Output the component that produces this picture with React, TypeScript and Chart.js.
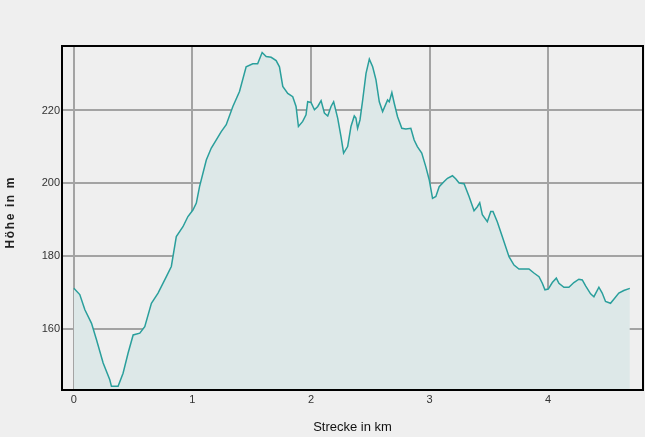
import React, { useEffect, useRef } from "react";
import { Chart, registerables } from "chart.js";

Chart.register(...registerables);

const distanceKm = [
  0.0, 0.05, 0.093, 0.149, 0.191, 0.247, 0.303, 0.317, 0.373, 0.415, 0.457, 0.5,
  0.556, 0.598, 0.654, 0.71, 0.78, 0.822, 0.864, 0.92, 0.962, 1.004, 1.033, 1.06,
  1.117, 1.159, 1.2, 1.243, 1.285, 1.341, 1.397, 1.453, 1.509, 1.55, 1.588, 1.622,
  1.664, 1.706, 1.734, 1.762, 1.804, 1.846, 1.874, 1.894, 1.93, 1.958, 1.972, 2.0,
  2.029, 2.057, 2.085, 2.113, 2.141, 2.169, 2.191, 2.225, 2.253, 2.275, 2.309, 2.337,
  2.365, 2.379, 2.393, 2.413, 2.436, 2.464, 2.492, 2.52, 2.548, 2.576, 2.604, 2.646,
  2.66, 2.682, 2.702, 2.73, 2.766, 2.8, 2.842, 2.87, 2.897, 2.934, 2.968, 2.997,
  3.025, 3.053, 3.081, 3.123, 3.151, 3.193, 3.222, 3.249, 3.291, 3.333, 3.375, 3.403,
  3.423, 3.445, 3.487, 3.516, 3.535, 3.571, 3.613, 3.67, 3.712, 3.754, 3.838, 3.88,
  3.923, 3.951, 3.973, 4.001, 4.035, 4.069, 4.091, 4.133, 4.175, 4.217, 4.259, 4.288,
  4.316, 4.358, 4.386, 4.428, 4.456, 4.484, 4.526, 4.554, 4.596, 4.638, 4.689,
];

const elevationM = [
  171.2, 169.5, 165.3, 161.6, 157.1, 150.7, 146.1, 144.3, 144.3, 147.9, 153.4, 158.4,
  158.9, 160.7, 167.1, 169.9, 174.4, 177.2, 185.4, 188.1, 190.9, 192.7, 194.6, 199.1,
  206.4, 209.7, 211.9, 214.2, 216.1, 221.1, 225.2, 232.0, 232.8, 232.8, 235.9, 234.8,
  234.6, 233.7, 232.0, 226.6, 224.7, 223.8, 221.1, 215.6, 217.0, 218.8, 222.4, 222.2,
  220.2, 221.1, 222.7, 219.3, 218.5, 221.1, 222.4, 217.9, 212.8, 208.3, 210.1, 215.6,
  218.5, 217.9, 215.1, 217.4, 222.9, 230.2, 234.1, 232.0, 228.4, 222.4, 219.7, 222.9,
  222.4, 224.9, 222.0, 218.3, 215.1, 214.9, 215.1, 211.9, 210.1, 208.3, 204.6, 201.0,
  195.9, 196.4, 199.1, 200.5, 201.4, 202.1, 201.2, 200.1, 199.9, 196.4, 192.5, 193.6,
  194.7, 191.4, 189.5, 192.3, 192.3, 189.5, 185.4, 179.9, 177.6, 176.5, 176.5, 175.4,
  174.4, 172.6, 170.8, 171.0, 172.8, 174.0, 172.6, 171.5, 171.5, 172.8, 173.7, 173.5,
  171.9, 169.7, 168.9, 171.5, 169.9, 167.6, 167.1, 168.2, 169.9, 170.6, 171.2,
];

const xTicks = [0, 1, 2, 3, 4];
const yTicks = [160, 180, 200, 220];

const xTitle = "Strecke in km";
const yTitle = "Höhe in m";

const FONT = "Arial, 'Liberation Sans', sans-serif";

export default function App() {
  const canvasRef = useRef<HTMLCanvasElement | null>(null);

  useEffect(() => {
    const canvas = canvasRef.current;
    if (!canvas) return;

    const bgPlugin = {
      id: "bg",
      beforeDraw(chart: any) {
        const ctx = chart.ctx;
        ctx.save();
        ctx.fillStyle = "#efefef";
        ctx.fillRect(0, 0, chart.width, chart.height);
        ctx.restore();
      },
      afterDraw(chart: any) {
        const ctx = chart.ctx;
        const a = chart.chartArea;
        ctx.save();
        ctx.strokeStyle = "#000000";
        ctx.lineWidth = 2;
        ctx.strokeRect(a.left, a.top, a.right - a.left, a.bottom - a.top);
        // y axis title with letter spacing
        ctx.translate(11, 213);
        ctx.rotate(-Math.PI / 2);
        ctx.font = "bold 12px " + FONT;
        (ctx as any).letterSpacing = "1.6px";
        ctx.fillStyle = "#222222";
        ctx.textAlign = "center";
        ctx.textBaseline = "middle";
        ctx.fillText(yTitle, 0.8, 0);
        ctx.restore();
      },
    };

    const chart = new Chart(canvas, {
      type: "line",
      data: {
        datasets: [
          {
            data: distanceKm.map((x, i) => ({ x, y: elevationM[i] })),
            borderColor: "#2a9f9c",
            borderWidth: 1.5,
            backgroundColor: "#dde8e8",
            fill: "start",
            pointRadius: 0,
            tension: 0,
          },
        ],
      },
      options: {
        responsive: false,
        animation: false,
        layout: { padding: { top: 46, right: 2, left: 0, bottom: 0 } },
        plugins: { legend: { display: false }, tooltip: { enabled: false } },
        scales: {
          x: {
            type: "linear",
            min: -0.1,
            max: 4.8,
            afterBuildTicks: (s: any) => {
              s.ticks = xTicks.map((v) => ({ value: v }));
            },
            afterFit: (s: any) => {
              s.height = 47;
            },
            grid: { color: "#a3a3a3", lineWidth: 2, drawTicks: false },
            border: { display: false },
            ticks: {
              padding: 3,
              color: "#333333",
              font: { family: FONT, size: 11 },
              maxRotation: 0,
              callback: (v: any) => String(v),
            },
            title: {
              display: true,
              text: xTitle,
              color: "#111111",
              font: { family: FONT, size: 13 },
              padding: { top: 0, bottom: 2 },
            },
          },
          y: {
            type: "linear",
            min: 143.3,
            max: 237.7,
            afterBuildTicks: (s: any) => {
              s.ticks = yTicks.map((v) => ({ value: v }));
            },
            afterFit: (s: any) => {
              s.width = 62;
            },
            grid: { color: "#a3a3a3", lineWidth: 2, drawTicks: false },
            border: { display: false },
            ticks: {
              padding: 2,
              color: "#333333",
              font: { family: FONT, size: 11 },
              callback: (v: any) => String(v),
            },
          },
        },
      },
      plugins: [bgPlugin],
    } as any);

    return () => chart.destroy();
  }, []);

  return (
    <div style={{ position: "fixed", left: 0, top: 0, width: 645, height: 437 }}>
      <canvas ref={canvasRef} width={645} height={437} style={{ display: "block", width: 645, height: 437 }} />
    </div>
  );
}
